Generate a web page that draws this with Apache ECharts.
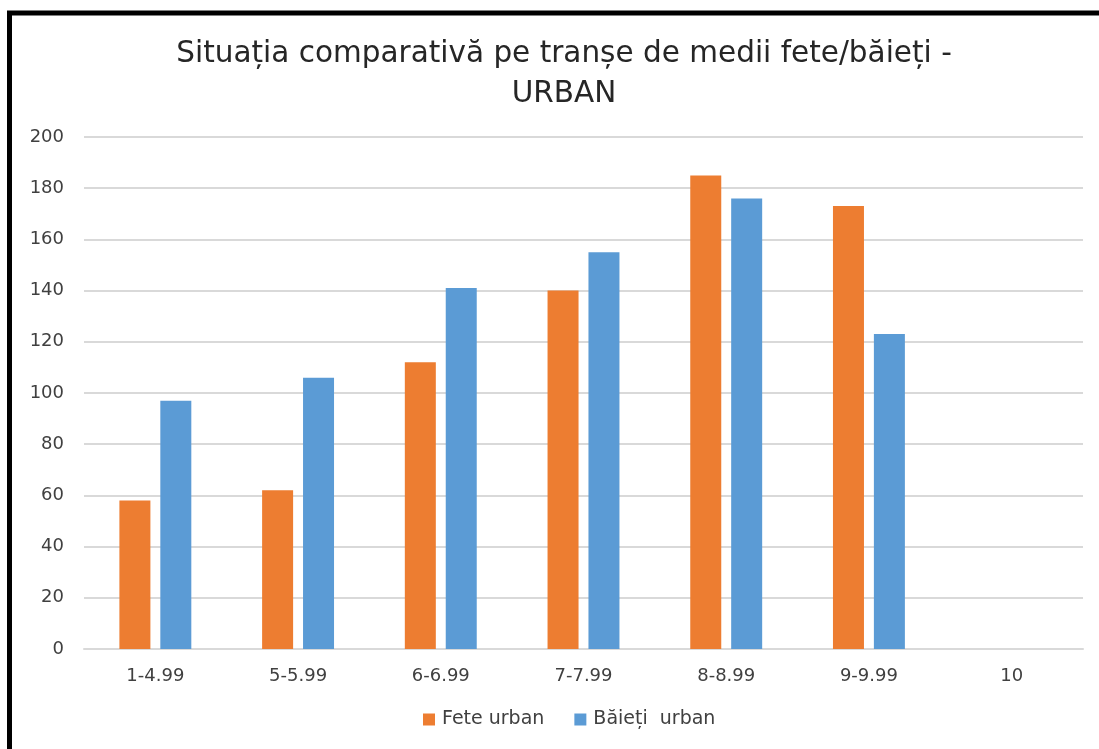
<!DOCTYPE html>
<html>
<head>
<meta charset="utf-8">
<script src="https://cdn.jsdelivr.net/npm/echarts@6/dist/echarts.min.js"></script>
<style>
html,body{margin:0;padding:0;background:#fff;}
#c{width:1099px;height:749px;}
</style>
</head>
<body>
<div id="c"></div>
<script>
var categories = ['1-4.99','5-5.99','6-6.99','7-7.99','8-8.99','9-9.99','10'];
var feteUrban = [58, 62, 112, 140, 185, 173, 0];
var baietiUrban = [97, 106, 141, 155, 176, 123, 0];
var yTicks = {min: 0, max: 200, interval: 20};

var chart = echarts.init(document.getElementById('c'), null, {renderer: 'canvas'});
var font = '"DejaVu Sans", "Open Sans", sans-serif';
chart.setOption({
  animation: false,
  backgroundColor: '#fff',
  title: {
    text: 'Situația comparativă pe tranșe de medii fete/băieți -\nURBAN',
    left: 559,
    textAlign: 'center',
    top: 29,
    textStyle: {fontFamily: font, fontSize: 29.5, fontWeight: 'normal', color: '#262626', lineHeight: 40}
  },
  graphic: [{
    type: 'rect',
    shape: {x: 9.5, y: 13, width: 1200, height: 800},
    style: {fill: 'none', stroke: '#000', lineWidth: 5},
    silent: true
  }],
  legend: {
    bottom: 15,
    left: 418,
    itemWidth: 12,
    itemHeight: 12,
    itemGap: 30,
    icon: 'rect',
    textStyle: {fontFamily: font, fontSize: 19, color: '#404040', padding: [0, 0, 0, 2]},
    data: ['Fete urban', 'Băieți  urban']
  },
  grid: {left: 84, right: 16, top: 137, bottom: 100, containLabel: false},
  xAxis: {
    type: 'category',
    data: categories,
    axisLine: {show: true, lineStyle: {color: '#D9D9D9', width: 2}},
    axisTick: {show: false},
    axisLabel: {fontFamily: font, fontSize: 18, color: '#404040', margin: 18}
  },
  yAxis: {
    type: 'value',
    min: yTicks.min,
    max: yTicks.max,
    interval: yTicks.interval,
    axisLine: {show: false},
    axisTick: {show: false},
    splitLine: {lineStyle: {color: '#D9D9D9', width: 2}},
    axisLabel: {fontFamily: font, fontSize: 18, color: '#404040', margin: 20}
  },
  series: [
    {name: 'Fete urban', type: 'bar', data: feteUrban, barWidth: 31, barGap: '32%',
     itemStyle: {color: '#ED7D31'}},
    {name: 'Băieți  urban', type: 'bar', data: baietiUrban, barWidth: 31, barGap: '32%',
     itemStyle: {color: '#5B9BD5'}}
  ]
});
</script>
</body>
</html>
